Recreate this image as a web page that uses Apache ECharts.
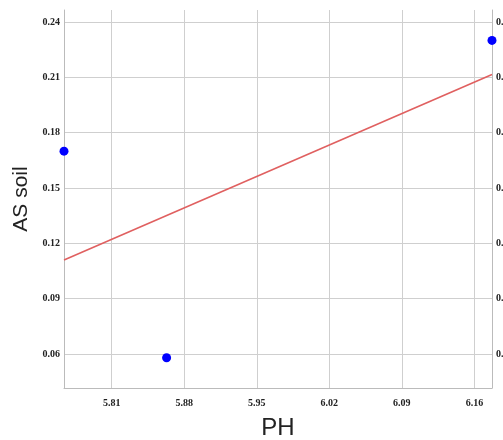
<!DOCTYPE html>
<html>
<head>
<meta charset="utf-8">
<script src="https://cdn.jsdelivr.net/npm/echarts@6/dist/echarts.min.js"></script>
<style>
  html, body { margin: 0; padding: 0; background: #fff; }
  #chart { width: 503px; height: 440px; }
</style>
</head>
<body>
<div id="chart"></div>
<script>
// 数据
var phValues = [5.764, 5.863, 6.177]
var asValues = [0.170, 0.058, 0.230]
// 拟合线两端
var fitX = [5.764, 6.177]
var fitY = [0.111, 0.2115]
// 刻度
var xTicks = [5.81, 5.88, 5.95, 6.02, 6.09, 6.16]
var yTicks = [0.06, 0.09, 0.12, 0.15, 0.18, 0.21, 0.24]

var points = phValues.map(function (v, i) { return [v, asValues[i]] })
var fitLine = fitX.map(function (v, i) { return [v, fitY[i]] })

var tickFont = {
  fontFamily: 'Liberation Serif',
  fontWeight: 'bold',
  fontSize: 10,
  color: '#222'
}

var myChart = echarts.init(document.getElementById('chart'))
var option = {
  animation: false,
  grid: { left: 64, right: 11, top: 10, bottom: 52, outerBoundsMode: 'none', containLabel: false },
  xAxis: {
    type: 'value',
    min: 5.764,
    max: 6.177,
    name: 'PH',
    nameLocation: 'middle',
    nameGap: 28,
    nameTextStyle: { fontFamily: 'Liberation Sans', fontSize: 24, color: '#222' },
    axisLine: { lineStyle: { color: '#bbb' } },
    axisTick: { show: false, customValues: xTicks },
    axisLabel: Object.assign({ customValues: xTicks, margin: 10, formatter: function (v) { return v.toFixed(2) } }, tickFont),
    splitLine: { lineStyle: { color: '#cfcfcf' } }
  },
  yAxis: [{
    type: 'value',
    min: 0.0416,
    max: 0.2465,
    name: 'AS soil',
    nameLocation: 'middle',
    nameGap: 30,
    nameTextStyle: { fontFamily: 'Liberation Sans', fontSize: 21, color: '#222' },
    axisLine: { show: true, lineStyle: { color: '#bbb' } },
    axisTick: { show: false, customValues: yTicks },
    axisLabel: Object.assign({ customValues: yTicks, margin: 4, formatter: function (v) { return v.toFixed(2) } }, tickFont),
    splitLine: { lineStyle: { color: '#cfcfcf' } }
  }, {
    type: 'value',
    position: 'right',
    min: 0.0416,
    max: 0.2465,
    axisLine: { show: true, lineStyle: { color: '#bbb' } },
    axisTick: { show: false, customValues: yTicks },
    axisLabel: Object.assign({ customValues: yTicks, margin: 4, formatter: function (v) { return v.toFixed(2) } }, tickFont),
    splitLine: { show: false }
  }],
  series: [{
    type: 'line',
    data: fitLine,
    symbol: 'none',
    lineStyle: { color: '#e06060', width: 1.6 },
    clip: false
  }, {
    type: 'scatter',
    data: points,
    symbolSize: 9,
    itemStyle: { color: '#0000ff', opacity: 1 },
    clip: false
  }]
}
myChart.setOption(option)
</script>
</body>
</html>
